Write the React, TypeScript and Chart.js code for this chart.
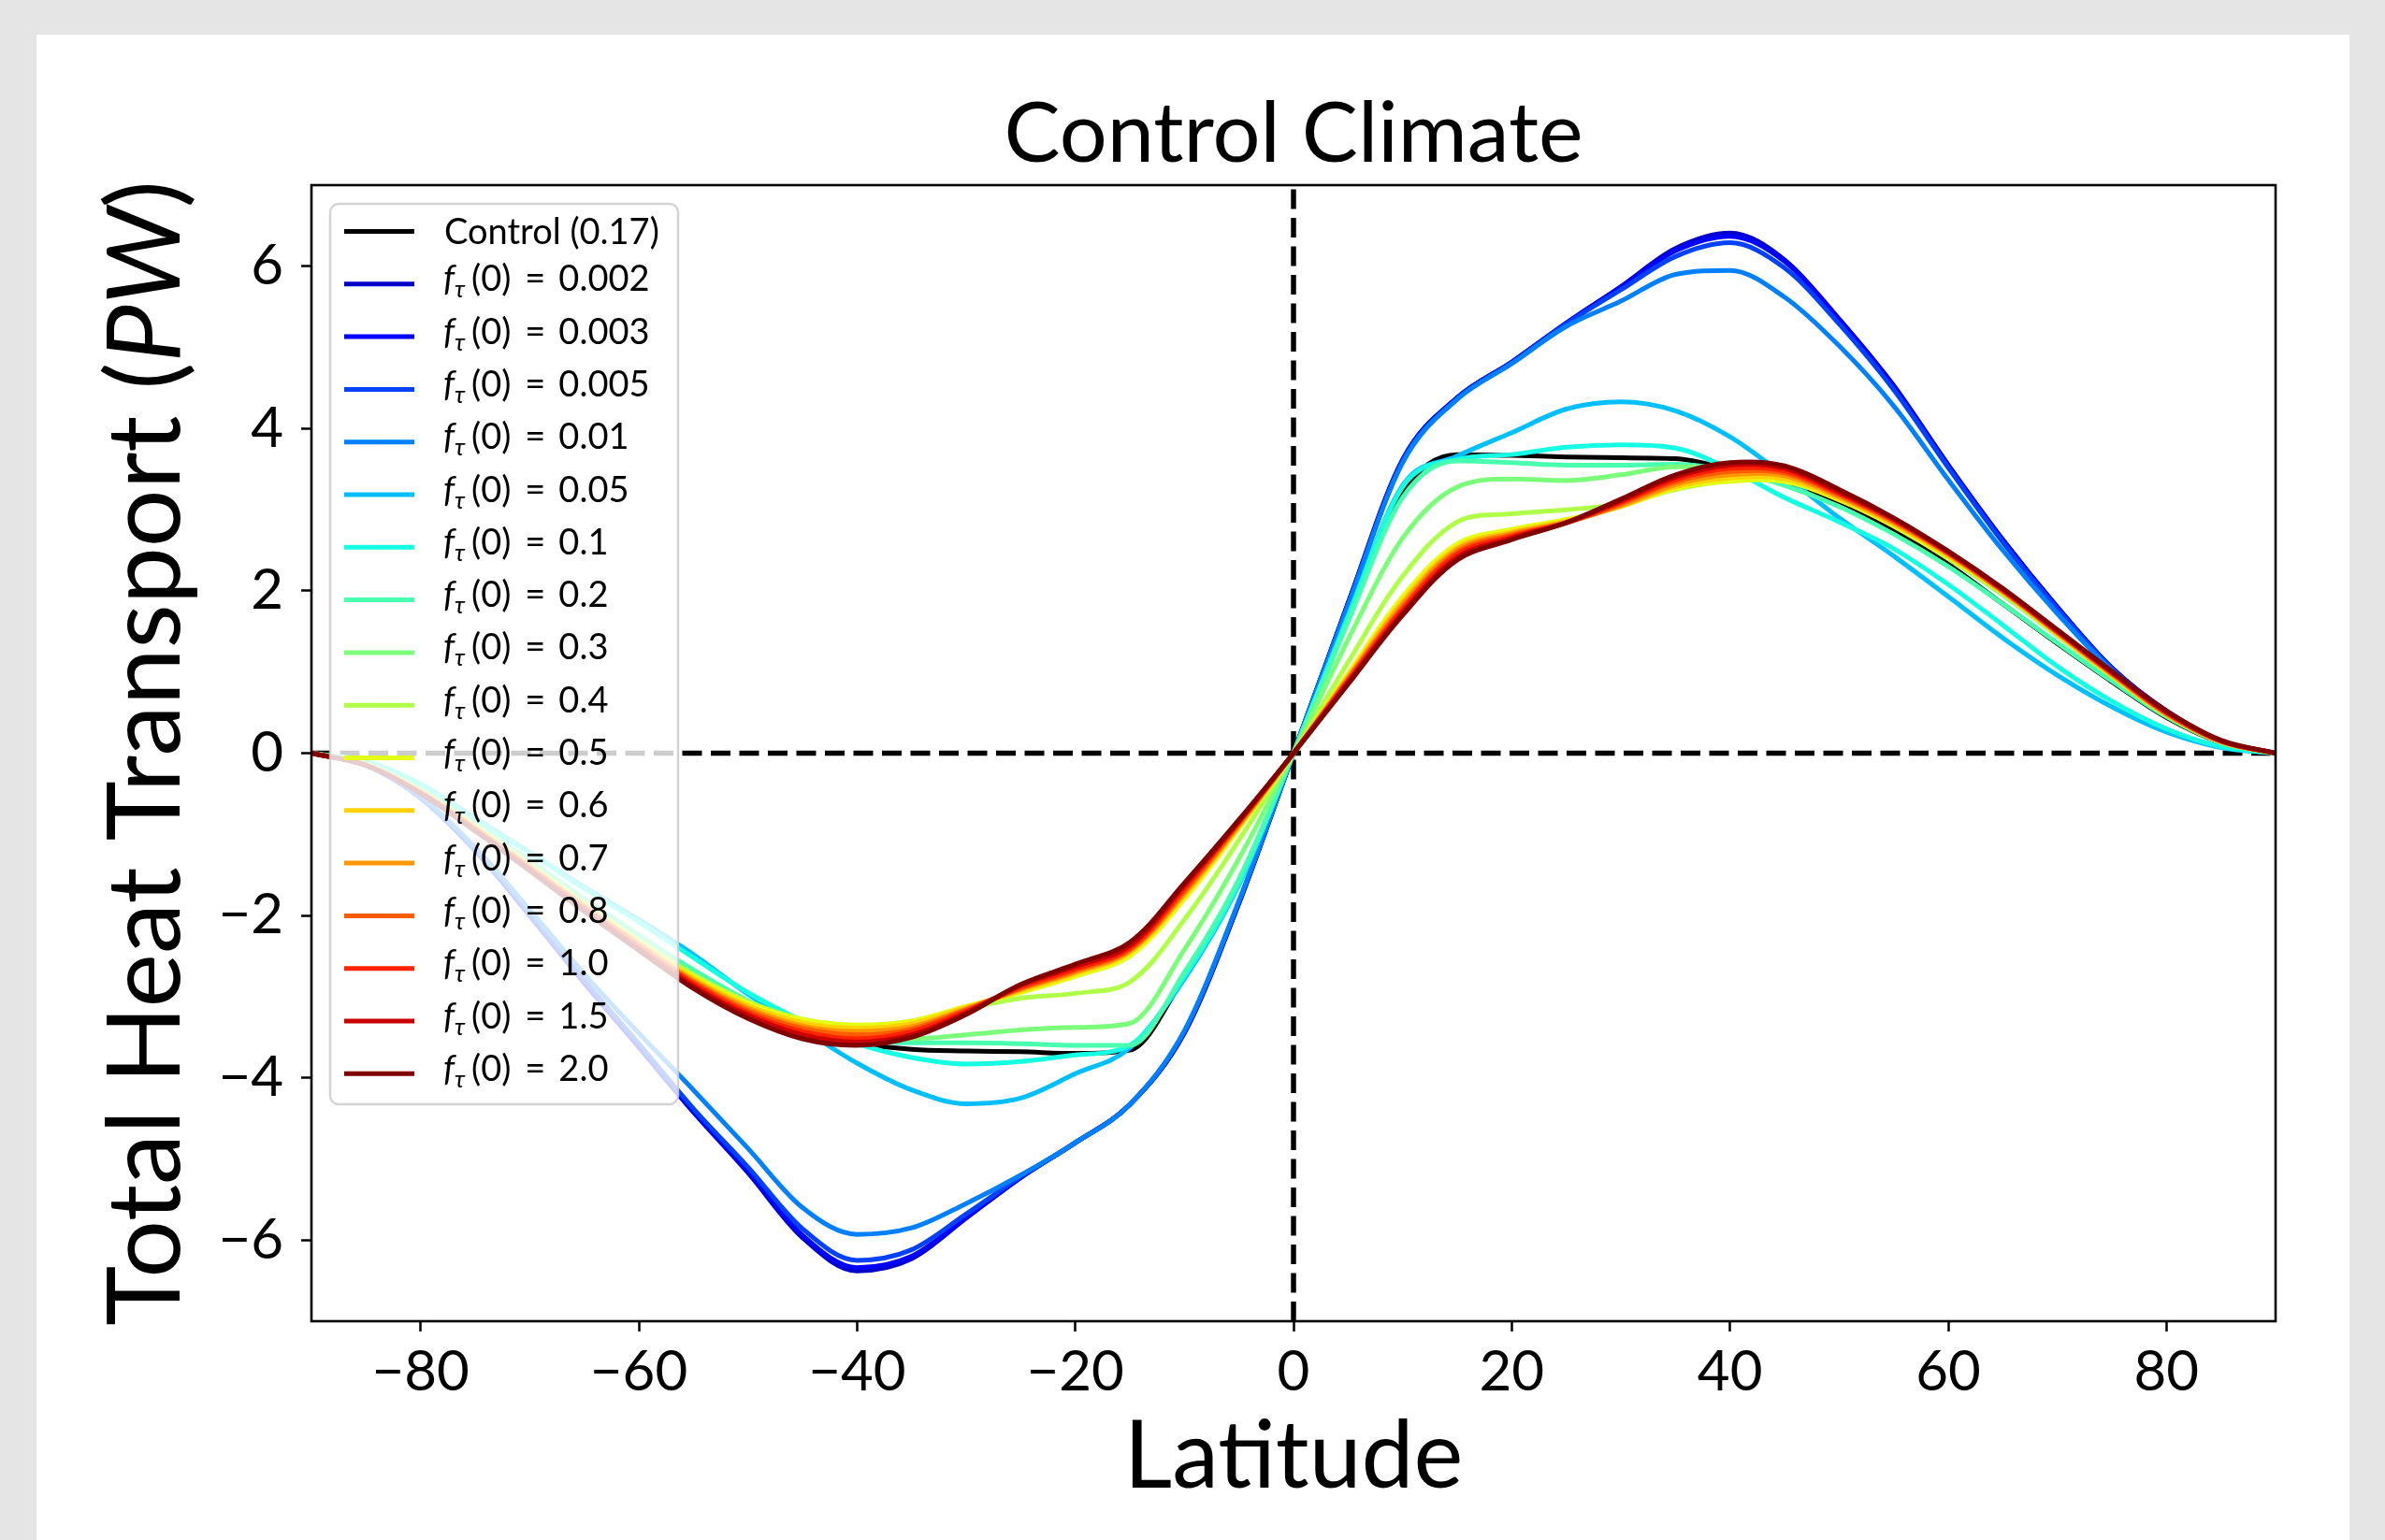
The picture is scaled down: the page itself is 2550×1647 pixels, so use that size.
import React, { useEffect, useRef } from "react";
import { Chart, registerables } from "chart.js";

Chart.register(...registerables);

const FONT = "Lato";

// Latitude grid (degrees)
const latitudes = [
  -90, -85, -80, -75, -70, -65, -60, -55, -50, -45, -40, -35, -30, -25, -20, -15, -10, -5,
  0, 5, 10, 15, 20, 25, 30, 35, 40, 45, 50, 55, 60, 65, 70, 75, 80, 85, 90,
];

// Total heat transport (PW) for each run
const controlRun = [0, -0.13, -0.45, -0.9, -1.35, -1.82, -2.28, -2.7, -3.1, -3.4, -3.57, -3.65, -3.67, -3.68, -3.7, -3.66, -2.75, -1.58, 0, 1.65, 3.22, 3.68, 3.67, 3.65, 3.64, 3.63, 3.5, 3.33, 3.1, 2.75, 2.33, 1.84, 1.35, 0.88, 0.44, 0.13, 0];
const f0002 = [0, -0.15, -0.55, -1.2, -2.0, -2.83, -3.62, -4.42, -5.17, -5.97, -6.38, -6.23, -5.73, -5.23, -4.8, -4.33, -3.45, -1.85, 0, 1.85, 3.62, 4.38, 4.82, 5.3, 5.75, 6.22, 6.41, 6.08, 5.35, 4.53, 3.55, 2.63, 1.8, 1.05, 0.52, 0.15, 0];
const f0003 = [0, -0.15, -0.55, -1.2, -2.0, -2.83, -3.62, -4.42, -5.15, -5.94, -6.34, -6.2, -5.72, -5.23, -4.8, -4.33, -3.44, -1.84, 0, 1.84, 3.61, 4.38, 4.82, 5.3, 5.74, 6.19, 6.37, 6.06, 5.34, 4.52, 3.55, 2.63, 1.8, 1.05, 0.52, 0.15, 0];
const f0005 = [0, -0.15, -0.55, -1.19, -1.98, -2.8, -3.58, -4.38, -5.1, -5.86, -6.25, -6.12, -5.68, -5.22, -4.8, -4.33, -3.43, -1.83, 0, 1.83, 3.6, 4.37, 4.81, 5.29, 5.71, 6.12, 6.29, 5.98, 5.29, 4.48, 3.52, 2.6, 1.78, 1.04, 0.51, 0.15, 0];
const f001 = [0, -0.15, -0.54, -1.16, -1.93, -2.72, -3.45, -4.15, -4.87, -5.6, -5.93, -5.85, -5.55, -5.2, -4.8, -4.33, -3.42, -1.82, 0, 1.82, 3.58, 4.36, 4.8, 5.26, 5.57, 5.9, 5.95, 5.62, 5.02, 4.28, 3.37, 2.5, 1.72, 1.02, 0.5, 0.14, 0];
const f005 = [0, -0.1, -0.38, -0.8, -1.22, -1.65, -2.05, -2.48, -2.97, -3.4, -3.82, -4.15, -4.32, -4.25, -3.95, -3.63, -2.78, -1.62, 0, 1.7, 3.3, 3.66, 3.95, 4.24, 4.33, 4.22, 3.9, 3.42, 2.9, 2.43, 1.93, 1.42, 0.96, 0.57, 0.26, 0.07, 0];
const f01 = [0, -0.1, -0.38, -0.82, -1.23, -1.67, -2.08, -2.52, -2.95, -3.3, -3.58, -3.75, -3.83, -3.8, -3.72, -3.6, -2.75, -1.6, 0, 1.68, 3.28, 3.62, 3.68, 3.77, 3.8, 3.76, 3.5, 3.15, 2.85, 2.52, 2.08, 1.58, 1.07, 0.64, 0.3, 0.08, 0];
const f02 = [0, -0.13, -0.44, -0.87, -1.32, -1.79, -2.24, -2.67, -3.05, -3.35, -3.53, -3.57, -3.57, -3.58, -3.6, -3.6, -2.7, -1.55, 0, 1.62, 3.15, 3.6, 3.58, 3.55, 3.55, 3.56, 3.48, 3.3, 3.04, 2.7, 2.3, 1.84, 1.36, 0.89, 0.45, 0.13, 0];
const f03 = [0, -0.13, -0.46, -0.89, -1.36, -1.84, -2.3, -2.72, -3.07, -3.33, -3.5, -3.52, -3.47, -3.41, -3.38, -3.33, -2.42, -1.3, 0, 1.4, 2.65, 3.28, 3.38, 3.36, 3.43, 3.53, 3.52, 3.4, 3.15, 2.8, 2.4, 1.95, 1.45, 0.95, 0.47, 0.14, 0];
const f04 = [0, -0.14, -0.47, -0.9, -1.37, -1.85, -2.31, -2.73, -3.06, -3.28, -3.36, -3.3, -3.15, -3.02, -2.96, -2.82, -2.05, -1.07, 0, 1.12, 2.18, 2.85, 2.95, 3.0, 3.07, 3.25, 3.36, 3.35, 3.13, 2.81, 2.42, 1.97, 1.47, 0.96, 0.48, 0.14, 0];
const f05 = [0, -0.14, -0.47, -0.9, -1.38, -1.86, -2.32, -2.75, -3.08, -3.28, -3.35, -3.3, -3.12, -2.95, -2.75, -2.5, -1.8, -0.93, 0, 0.98, 1.93, 2.58, 2.76, 2.88, 3.04, 3.26, 3.35, 3.35, 3.12, 2.8, 2.41, 1.97, 1.46, 0.95, 0.47, 0.14, 0];
const f06 = [0, -0.14, -0.47, -0.91, -1.39, -1.87, -2.33, -2.77, -3.11, -3.32, -3.39, -3.33, -3.13, -2.93, -2.72, -2.46, -1.76, -0.9, 0, 0.95, 1.88, 2.54, 2.73, 2.86, 3.04, 3.28, 3.39, 3.38, 3.14, 2.82, 2.43, 1.98, 1.47, 0.96, 0.48, 0.14, 0];
const f07 = [0, -0.14, -0.48, -0.92, -1.4, -1.88, -2.35, -2.8, -3.14, -3.36, -3.43, -3.37, -3.15, -2.91, -2.7, -2.44, -1.73, -0.89, 0, 0.93, 1.84, 2.51, 2.71, 2.85, 3.05, 3.31, 3.43, 3.42, 3.16, 2.84, 2.45, 1.99, 1.48, 0.97, 0.48, 0.14, 0];
const f08 = [0, -0.15, -0.48, -0.93, -1.41, -1.9, -2.37, -2.82, -3.17, -3.39, -3.47, -3.4, -3.16, -2.9, -2.68, -2.42, -1.7, -0.87, 0, 0.91, 1.8, 2.48, 2.69, 2.84, 3.07, 3.34, 3.47, 3.45, 3.18, 2.86, 2.46, 2.0, 1.49, 0.98, 0.49, 0.15, 0];
const f10 = [0, -0.15, -0.49, -0.94, -1.42, -1.91, -2.39, -2.84, -3.2, -3.43, -3.52, -3.43, -3.18, -2.88, -2.66, -2.4, -1.67, -0.85, 0, 0.89, 1.77, 2.45, 2.67, 2.84, 3.09, 3.37, 3.51, 3.48, 3.2, 2.87, 2.47, 2.01, 1.5, 0.99, 0.5, 0.15, 0];
const f15 = [0, -0.15, -0.49, -0.95, -1.44, -1.93, -2.41, -2.87, -3.23, -3.47, -3.56, -3.47, -3.2, -2.86, -2.63, -2.37, -1.63, -0.84, 0, 0.87, 1.73, 2.41, 2.65, 2.84, 3.11, 3.4, 3.55, 3.51, 3.22, 2.89, 2.48, 2.02, 1.51, 1.0, 0.51, 0.15, 0];
const f20 = [0, -0.15, -0.5, -0.96, -1.45, -1.95, -2.43, -2.9, -3.27, -3.52, -3.6, -3.5, -3.22, -2.85, -2.6, -2.33, -1.6, -0.82, 0, 0.85, 1.7, 2.38, 2.63, 2.84, 3.13, 3.43, 3.58, 3.54, 3.25, 2.9, 2.49, 2.03, 1.52, 1.01, 0.52, 0.16, 0];

const seriesValues = [controlRun, f0002, f0003, f0005, f001, f005, f01, f02, f03, f04, f05, f06, f07, f08, f10, f15, f20];
const seriesLabels = ["Control (0.17)", "0.002", "0.003", "0.005", "0.01", "0.05", "0.1", "0.2", "0.3", "0.4", "0.5", "0.6", "0.7", "0.8", "1.0", "1.5", "2.0"];
const seriesColors = [
  "#000000", "#0000c8", "#0000ff", "#0040ff", "#0080ff", "#00bfff", "#15ffe2", "#48ffaf", "#7bff7b",
  "#afff48", "#e2ff15", "#ffd200", "#ff9700", "#ff5c00", "#ff2100", "#c80000", "#800000",
];

const xTickValues = [-80, -60, -40, -20, 0, 20, 40, 60, 80];
const yTickValues = [-6, -4, -2, 0, 2, 4, 6];
const xRange = [-90, 90];
const yRange = [-7, 7];

const fmt = (v: number) => (v < 0 ? "\u2212" + Math.abs(v) : String(v));

const LEG_FONT = 38;

const decorPlugin = {
  id: "decor",
  afterDatasetsDraw(chart: any) {
    const { ctx, chartArea: a } = chart;
    ctx.save();
    // axes frame
    ctx.strokeStyle = "#000";
    ctx.lineWidth = 2.6;
    ctx.strokeRect(a.left, a.top, a.right - a.left, a.bottom - a.top);

    // legend
    const bx = a.left + 20;
    const by = a.top + 20;
    const bw = 372;
    const bh = 963;
    ctx.beginPath();
    (ctx as any).roundRect(bx, by, bw, bh, 9);
    ctx.fillStyle = "rgba(255,255,255,0.8)";
    ctx.fill();
    ctx.lineWidth = 2.5;
    ctx.strokeStyle = "rgba(204,204,204,0.85)";
    ctx.stroke();
    ctx.textAlign = "left";
    ctx.textBaseline = "alphabetic";
    for (let i = 0; i < seriesLabels.length; i++) {
      const yy = by + 29.5 + i * 56.3;
      ctx.beginPath();
      ctx.moveTo(bx + 15, yy);
      ctx.lineTo(bx + 90, yy);
      ctx.lineWidth = 5;
      ctx.strokeStyle = seriesColors[i];
      ctx.stroke();
      const tx = bx + 121;
      ctx.fillStyle = "#000";
      if (i === 0) {
        ctx.font = `${LEG_FONT}px ${FONT}`;
        ctx.fillText(seriesLabels[0], tx + 1, yy + 13.7);
      } else {
        const base = yy + 7.5;
        ctx.font = `italic ${LEG_FONT}px ${FONT}`;
        ctx.fillText("f", tx, base);
        ctx.font = `italic 26px ${FONT}`;
        ctx.fillText("\u03c4", tx + 12, base + 7);
        ctx.font = `${LEG_FONT}px ${FONT}`;
        let x = tx + 30;
        ctx.fillText("(0)", x, base);
        x += ctx.measureText("(0)").width + 15;
        ctx.fillText("=", x, base);
        x += ctx.measureText("=").width + 14;
        ctx.fillText(seriesLabels[i], x, base);
      }
    }
    ctx.restore();
  },
  afterDraw(chart: any) {
    const { ctx, chartArea: a } = chart;
    ctx.save();
    ctx.translate(a.left - 141, (a.top + a.bottom) / 2);
    ctx.rotate(-Math.PI / 2);
    ctx.fillStyle = "#000";
    ctx.textBaseline = "alphabetic";
    ctx.textAlign = "left";
    const parts = [
      { t: "Total Heat Transport (", f: `109px ${FONT}` },
      { t: "PW", f: `italic 109px ${FONT}` },
      { t: ")", f: `109px ${FONT}` },
    ];
    let total = 0;
    for (const p of parts) {
      ctx.font = p.f;
      total += ctx.measureText(p.t).width;
    }
    let x = -total / 2;
    for (const p of parts) {
      ctx.font = p.f;
      ctx.fillText(p.t, x, 0);
      x += ctx.measureText(p.t).width;
    }
    ctx.restore();
  },
};

export default function App() {
  const canvasRef = useRef<HTMLCanvasElement | null>(null);

  useEffect(() => {
    const canvas = canvasRef.current;
    if (!canvas) return;
    const datasets: any[] = seriesValues.map((vals, i) => ({
      label: seriesLabels[i],
      data: vals.map((v, j) => ({ x: latitudes[j], y: v })),
      borderColor: seriesColors[i],
      backgroundColor: seriesColors[i],
      borderWidth: 5,
      pointRadius: 0,
      fill: false,
      cubicInterpolationMode: i >= 9 ? "default" : "monotone",
      tension: i >= 9 ? 0.35 : 0,
      order: 100 - i,
    }));
    datasets.push({
      label: "zero-h",
      data: [{ x: xRange[0], y: 0 }, { x: xRange[1], y: 0 }],
      borderColor: "#000",
      borderWidth: 5.5,
      borderDash: [21, 9.5],
      pointRadius: 0,
      fill: false,
      order: 1000,
    });
    datasets.push({
      label: "zero-v",
      data: [{ x: 0, y: yRange[0] }, { x: 0, y: yRange[1] }],
      borderColor: "#000",
      borderWidth: 5.5,
      borderDash: [21, 9.5],
      pointRadius: 0,
      fill: false,
      order: 1001,
    });

    const tickFont = { family: FONT, size: 60, lineHeight: 1.2 };
    const chart = new Chart(canvas, {
      type: "line",
      data: { datasets },
      options: {
        animation: false,
        responsive: false,
        devicePixelRatio: 1,
        layout: { padding: { left: 0, right: 117, top: 0, bottom: 0 } },
        plugins: {
          legend: { display: false },
          tooltip: { enabled: false },
          title: {
            display: true,
            fullSize: false,
            text: "Control Climate",
            color: "#000",
            font: { family: FONT, size: 90, weight: "normal", lineHeight: 1 },
            padding: { top: 98.5, bottom: 9.5 },
          },
        },
        scales: {
          x: {
            type: "linear",
            min: xRange[0],
            max: xRange[1],
            afterBuildTicks: (s: any) => {
              s.ticks = xTickValues.map((v) => ({ value: v }));
            },
            afterFit: (s: any) => {
              s.height = 234;
            },
            grid: { display: true, drawOnChartArea: false, drawTicks: true, tickLength: 11, tickWidth: 2.5, tickColor: "#000" },
            border: { display: false },
            ticks: { color: "#000", font: tickFont, padding: 7.5, maxRotation: 0, autoSkip: false, callback: (v: any) => fmt(Number(v)) },
            title: {
              display: true,
              text: "Latitude",
              color: "#000",
              font: { family: FONT, size: 100, lineHeight: 1.2 },
              padding: { top: 0, bottom: 28 },
            },
          },
          y: {
            type: "linear",
            min: yRange[0],
            max: yRange[1],
            afterBuildTicks: (s: any) => {
              s.ticks = yTickValues.map((v) => ({ value: v }));
            },
            afterFit: (s: any) => {
              s.width = 333;
            },
            grid: { display: true, drawOnChartArea: false, drawTicks: true, tickLength: 11, tickWidth: 2.5, tickColor: "#000" },
            border: { display: false },
            ticks: { color: "#000", font: tickFont, padding: 19, autoSkip: false, callback: (v: any) => fmt(Number(v)) },
          },
        },
      } as any,
      plugins: [decorPlugin as any],
    });
    return () => chart.destroy();
  }, []);

  return (
    <div style={{ position: "fixed", left: 0, top: 0, width: 2550, height: 1647, background: "#e5e5e5", overflow: "hidden" }}>
      <div style={{ position: "absolute", left: 39, top: 37, width: 2473, height: 1610, background: "#ffffff" }} />
      <canvas
        ref={canvasRef}
        width={2550}
        height={1647}
        style={{ position: "absolute", left: 0, top: 0, width: 2550, height: 1647 }}
      />
    </div>
  );
}
